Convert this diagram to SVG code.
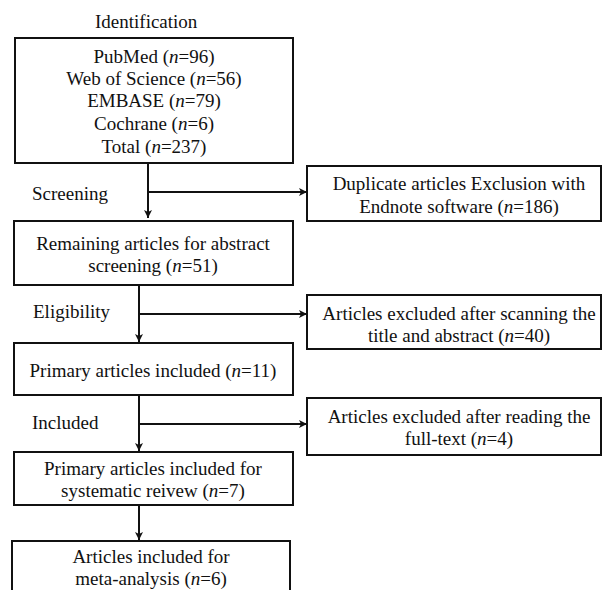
<svg xmlns="http://www.w3.org/2000/svg" width="603" height="590" viewBox="0 0 603 590">
<defs>
<marker id="ah" markerWidth="10" markerHeight="10" refX="9" refY="5" orient="auto" markerUnits="userSpaceOnUse">
<path d="M1,1 L9,5 L1,9 L3,5 Z" fill="#111"/>
</marker>
<style>
.box{fill:#fff;stroke:#111;stroke-width:2}
.c{stroke:#111;stroke-width:2;fill:none}
</style>
</defs>
<rect width="603" height="590" fill="#fff"/>
<text x="95" y="28" font-family="Liberation Serif" font-size="19" fill="#111">Identification</text>
<text x="32" y="200" font-family="Liberation Serif" font-size="19" fill="#111">Screening</text>
<text x="33" y="318" font-family="Liberation Serif" font-size="19" fill="#111">Eligibility</text>
<text x="32" y="429" font-family="Liberation Serif" font-size="19" fill="#111">Included</text>
<g id="connectors">
<path class="c" d="M148,163 V218" marker-end="url(#ah)"/>
<path class="c" d="M148,192 H307" marker-end="url(#ah)"/>
<path class="c" d="M139,285 V342" marker-end="url(#ah)"/>
<path class="c" d="M139,314 H307" marker-end="url(#ah)"/>
<path class="c" d="M139,395 V451" marker-end="url(#ah)"/>
<path class="c" d="M139,424 H307" marker-end="url(#ah)"/>
<path class="c" d="M139,505 V540" marker-end="url(#ah)"/>
</g>
<g id="n1">
<rect class="box" x="15" y="38" width="278" height="125"/>
<text x="154" y="63" font-family="Liberation Serif" font-size="19" fill="#111" text-anchor="middle">PubMed (<tspan font-style="italic">n</tspan>=96)</text>
<text x="154" y="85" font-family="Liberation Serif" font-size="19" fill="#111" text-anchor="middle">Web of Science (<tspan font-style="italic">n</tspan>=56)</text>
<text x="154" y="107" font-family="Liberation Serif" font-size="19" fill="#111" text-anchor="middle">EMBASE (<tspan font-style="italic">n</tspan>=79)</text>
<text x="154" y="130" font-family="Liberation Serif" font-size="19" fill="#111" text-anchor="middle">Cochrane (<tspan font-style="italic">n</tspan>=6)</text>
<text x="154" y="153" font-family="Liberation Serif" font-size="19" fill="#111" text-anchor="middle">Total (<tspan font-style="italic">n</tspan>=237)</text>
</g>
<g id="n2">
<rect class="box" x="307" y="166" width="294" height="55"/>
<text x="459" y="190" font-family="Liberation Serif" font-size="19" fill="#111" text-anchor="middle">Duplicate articles Exclusion with</text>
<text x="459" y="213" font-family="Liberation Serif" font-size="19" fill="#111" text-anchor="middle">Endnote software (<tspan font-style="italic">n</tspan>=186)</text>
</g>
<g id="n3">
<rect class="box" x="14" y="221" width="279" height="64"/>
<text x="153" y="250" font-family="Liberation Serif" font-size="19" fill="#111" text-anchor="middle">Remaining articles for abstract</text>
<text x="153" y="272" font-family="Liberation Serif" font-size="19" fill="#111" text-anchor="middle">screening (<tspan font-style="italic">n</tspan>=51)</text>
</g>
<g id="n4">
<rect class="box" x="307" y="295" width="294" height="54"/>
<text x="459" y="320" font-family="Liberation Serif" font-size="19" fill="#111" text-anchor="middle">Articles excluded after scanning the</text>
<text x="459" y="342" font-family="Liberation Serif" font-size="19" fill="#111" text-anchor="middle">title and abstract (<tspan font-style="italic">n</tspan>=40)</text>
</g>
<g id="n5">
<rect class="box" x="14" y="343" width="279" height="52"/>
<text x="153" y="377" font-family="Liberation Serif" font-size="19" fill="#111" text-anchor="middle">Primary articles included (<tspan font-style="italic">n</tspan>=11)</text>
</g>
<g id="n6">
<rect class="box" x="307" y="398" width="294" height="57"/>
<text x="459" y="423" font-family="Liberation Serif" font-size="19" fill="#111" text-anchor="middle">Articles excluded after reading the</text>
<text x="459" y="445" font-family="Liberation Serif" font-size="19" fill="#111" text-anchor="middle">full-text (<tspan font-style="italic">n</tspan>=4)</text>
</g>
<g id="n7">
<rect class="box" x="14" y="452" width="279" height="53"/>
<text x="153" y="475" font-family="Liberation Serif" font-size="19" fill="#111" text-anchor="middle">Primary articles included for</text>
<text x="153" y="497" font-family="Liberation Serif" font-size="19" fill="#111" text-anchor="middle">systematic reivew (<tspan font-style="italic">n</tspan>=7)</text>
</g>
<g id="n8">
<rect class="box" x="12" y="541" width="278" height="60"/>
<text x="151" y="563" font-family="Liberation Serif" font-size="19" fill="#111" text-anchor="middle">Articles included for</text>
<text x="151" y="585" font-family="Liberation Serif" font-size="19" fill="#111" text-anchor="middle">meta-analysis (<tspan font-style="italic">n</tspan>=6)</text>
</g>
</svg>
